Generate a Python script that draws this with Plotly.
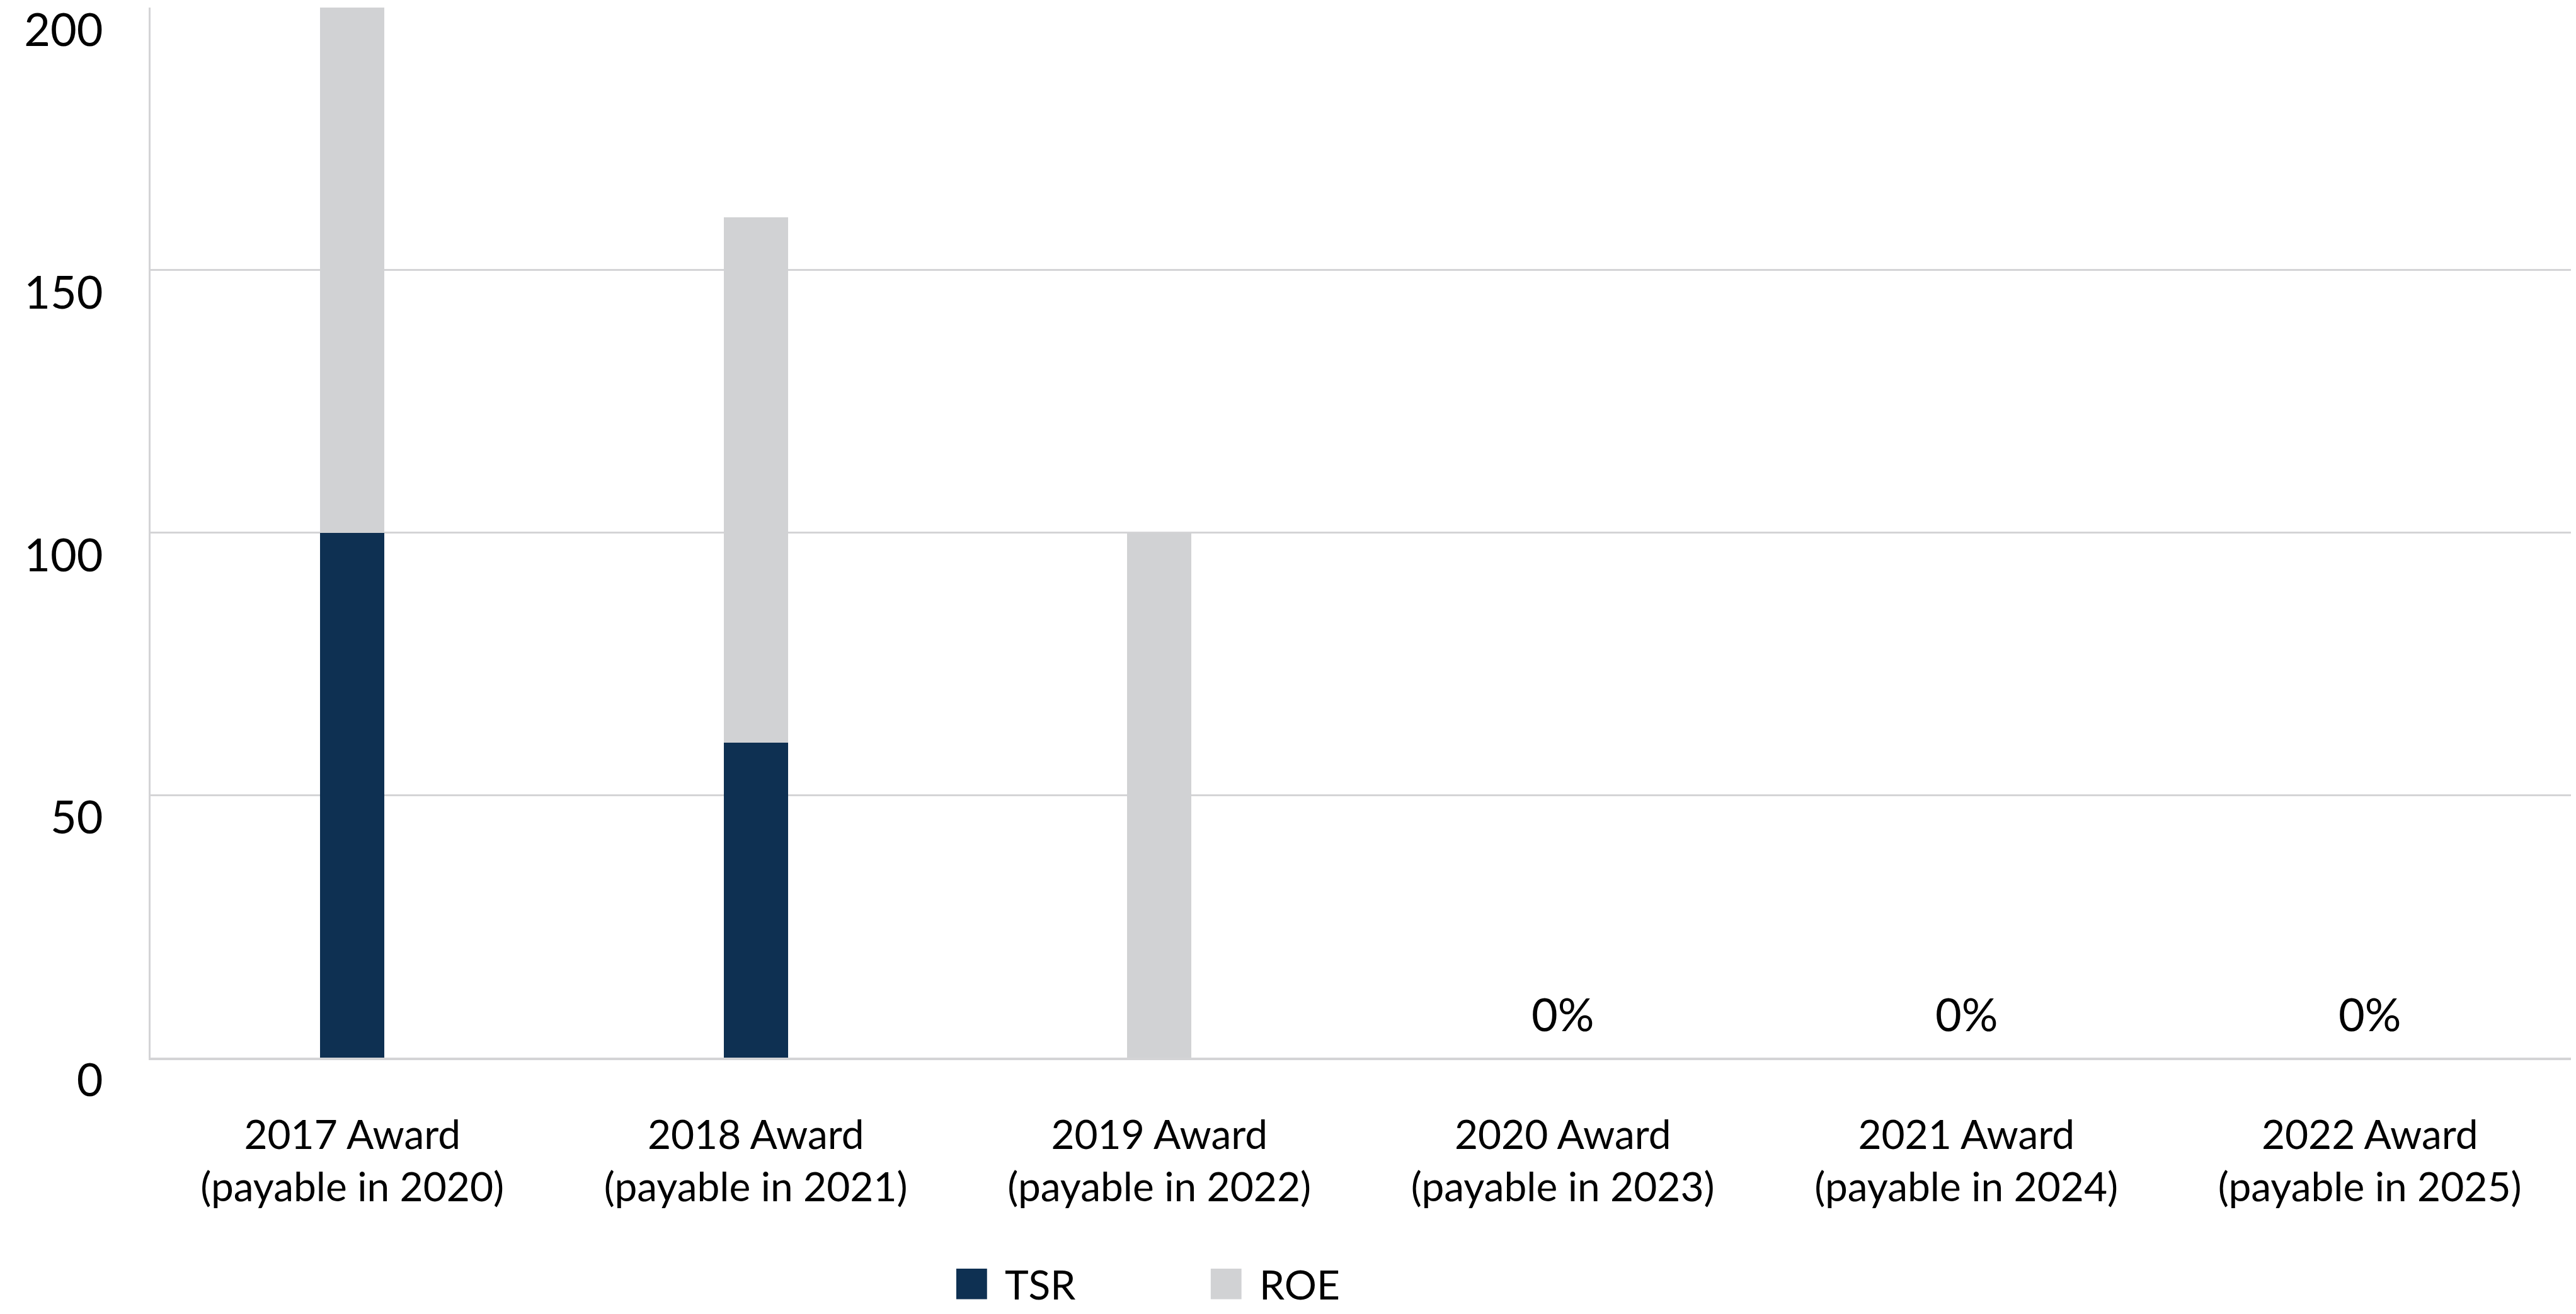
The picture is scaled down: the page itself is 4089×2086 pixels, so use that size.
import plotly.graph_objects as go

categories = ["2017 Award<br>(payable in 2020)", "2018 Award<br>(payable in 2021)",
              "2019 Award<br>(payable in 2022)", "2020 Award<br>(payable in 2023)",
              "2021 Award<br>(payable in 2024)", "2022 Award<br>(payable in 2025)"]
tsr = [100, 60, 0, 0, 0, 0]
roe = [100, 100, 100, 0, 0, 0]
y_ticks = [0, 50, 100, 150, 200]
series_names = ["TSR", "ROE"]
series_colors = ["#0E3052", "#D1D2D4"]

FONT = "Lato, 'Open Sans', sans-serif"
GRID = "#D4D4D6"

fig = go.Figure()
for name, vals, col in zip(series_names, [tsr, roe], series_colors):
    fig.add_trace(go.Bar(x=categories, y=vals, name=name, marker_color=col,
                         marker_line_width=0, width=0.16, showlegend=False,
                         hoverinfo="x+y+name"))

# "0%" labels for awards with zero payout
for c, a, b in zip(categories, tsr, roe):
    if a + b == 0:
        fig.add_annotation(x=c, y=0, text="0%", showarrow=False, yanchor="middle",
                           yshift=70, font=dict(family=FONT, size=72, color="black"))

# custom legend (large square swatches)
leg_y0, leg_y1 = -0.230, -0.201
for name, col, x0 in zip(series_names, series_colors, [0.3328, 0.4379]):
    fig.add_shape(type="rect", xref="paper", yref="paper", x0=x0, x1=x0 + 0.0127,
                  y0=leg_y0, y1=leg_y1, fillcolor=col, line_width=0)
    fig.add_annotation(xref="paper", yref="paper", x=x0 + 0.0195, y=(leg_y0 + leg_y1) / 2,
                       xanchor="left", yanchor="middle", text=name, showarrow=False,
                       font=dict(family=FONT, size=64, color="black"))

# page body has an 8px margin: the figure is sized/offset to compensate
fig.update_layout(
    width=4081, height=2078,
    margin=dict(l=231, r=7, t=4, b=407, autoexpand=False),
    barmode="stack",
    plot_bgcolor="white", paper_bgcolor="white",
    font=dict(family=FONT, color="black"),
    showlegend=False,
)
fig.update_xaxes(showline=True, linecolor=GRID, linewidth=4, showgrid=False,
                 ticks="", tickfont=dict(family=FONT, size=64, color="black"),
                 ticklabelstandoff=64, automargin=False)
fig.update_yaxes(range=[0, 200], tickvals=y_ticks, showgrid=True, gridcolor=GRID,
                 gridwidth=3, showline=True, linecolor=GRID, linewidth=3,
                 zeroline=False, ticks="", automargin=False,
                 ticklabeloverflow="allow",
                 tickfont=dict(family=FONT, size=72, color="black"),
                 ticklabelstandoff=58, ticklabelshift=36)

fig.write_html("out.html")
